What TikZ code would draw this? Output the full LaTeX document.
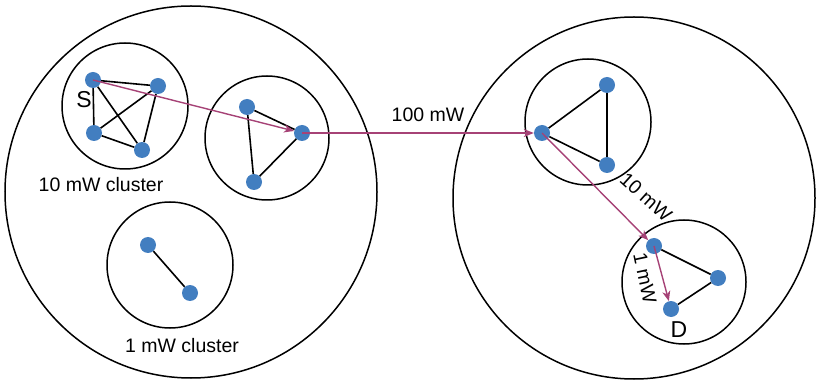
\documentclass[tikz,border=0pt]{standalone}
\usepackage{fontspec}
\setmainfont{Liberation Sans}
\usetikzlibrary{arrows.meta}
\definecolor{dotblue}{RGB}{66,126,192}
\definecolor{routec}{RGB}{166,66,118}
\begin{document}
\begin{tikzpicture}[x=1pt,y=-1pt,
  dot/.style={circle,fill=dotblue,inner sep=0pt,minimum size=16pt},
  ring/.style={circle,draw=black,line width=1.5pt,inner sep=0pt},
  link/.style={draw=black,line width=1.6pt},
  route/.style={draw=routec,line width=1.4pt,-{Stealth[length=10pt,width=8pt,inset=3pt]}},
  lbl/.style={font=\fontsize{19.5}{23}\selectfont,inner sep=0pt},
  big/.style={font=\fontsize{23}{27}\selectfont,inner sep=0pt}]
\useasboundingbox (0,0) rectangle (816,387);
% big regions
\node[ring,minimum size=372pt] (L) at (191,192) {};
\node[ring,minimum size=362pt] (R) at (634,198) {};
% clusters
\node[ring,minimum size=126pt] (c1) at (125,106) {};
\node[ring,minimum size=124pt] (c2) at (267,138) {};
\node[ring,minimum size=126pt] (c3) at (170,265) {};
\node[ring,minimum size=126pt] (c4) at (588,122) {};
\node[ring,minimum size=124pt] (c5) at (684,282) {};
% nodes
\node[dot] (s1) at (93,80) {};
\node[dot] (s2) at (158,86) {};
\node[dot] (s3) at (94,133) {};
\node[dot] (s4) at (142,150) {};
\node[dot] (a) at (247,107) {};
\node[dot] (b) at (302,133) {};
\node[dot] (c) at (254,182) {};
\node[dot] (m1) at (148,245) {};
\node[dot] (m2) at (190,293) {};
\node[dot] (p) at (542,133) {};
\node[dot] (q) at (607,85) {};
\node[dot] (r) at (607,165) {};
\node[dot] (e) at (654,246) {};
\node[dot] (f) at (718,278) {};
\node[dot] (g) at (671,309) {};
% links
\draw[link] (s1) -- (s2);
\draw[link] (s1) -- (s3);
\draw[link] (s1) -- (s4);
\draw[link] (s3) -- (s2);
\draw[link] (s3) -- (s4);
\draw[link] (s4) -- (s2);
\draw[link] (a) -- (b);
\draw[link] (a) -- (c);
\draw[link] (b) -- (c);
\draw[link] (m1) -- (m2);
\draw[link] (p) -- (q);
\draw[link] (q) -- (r);
\draw[link] (p) -- (r);
\draw[link] (e) -- (f);
\draw[link] (f) -- (g);
% routes
\draw[route] (s1.center) -- (b);
\draw[route] (b.center) -- (p);
\draw[route] (p.center) -- (e);
\draw[route] (e.center) -- (g);
% labels
\node[big] (tS) at (84,100) {S};
\node[big] (tD) at (679,330) {D};
\node[lbl] (t10c) at (101,185) {10 mW cluster};
\node[lbl] (t1c) at (182,346) {1 mW cluster};
\node[lbl] (t100) at (428,115) {100 mW};
\node[lbl,rotate=-42] (t10) at (646,197) {10 mW};
\node[lbl,rotate=-78] (t1) at (645,278) {1 mW};
\end{tikzpicture}
\end{document}
